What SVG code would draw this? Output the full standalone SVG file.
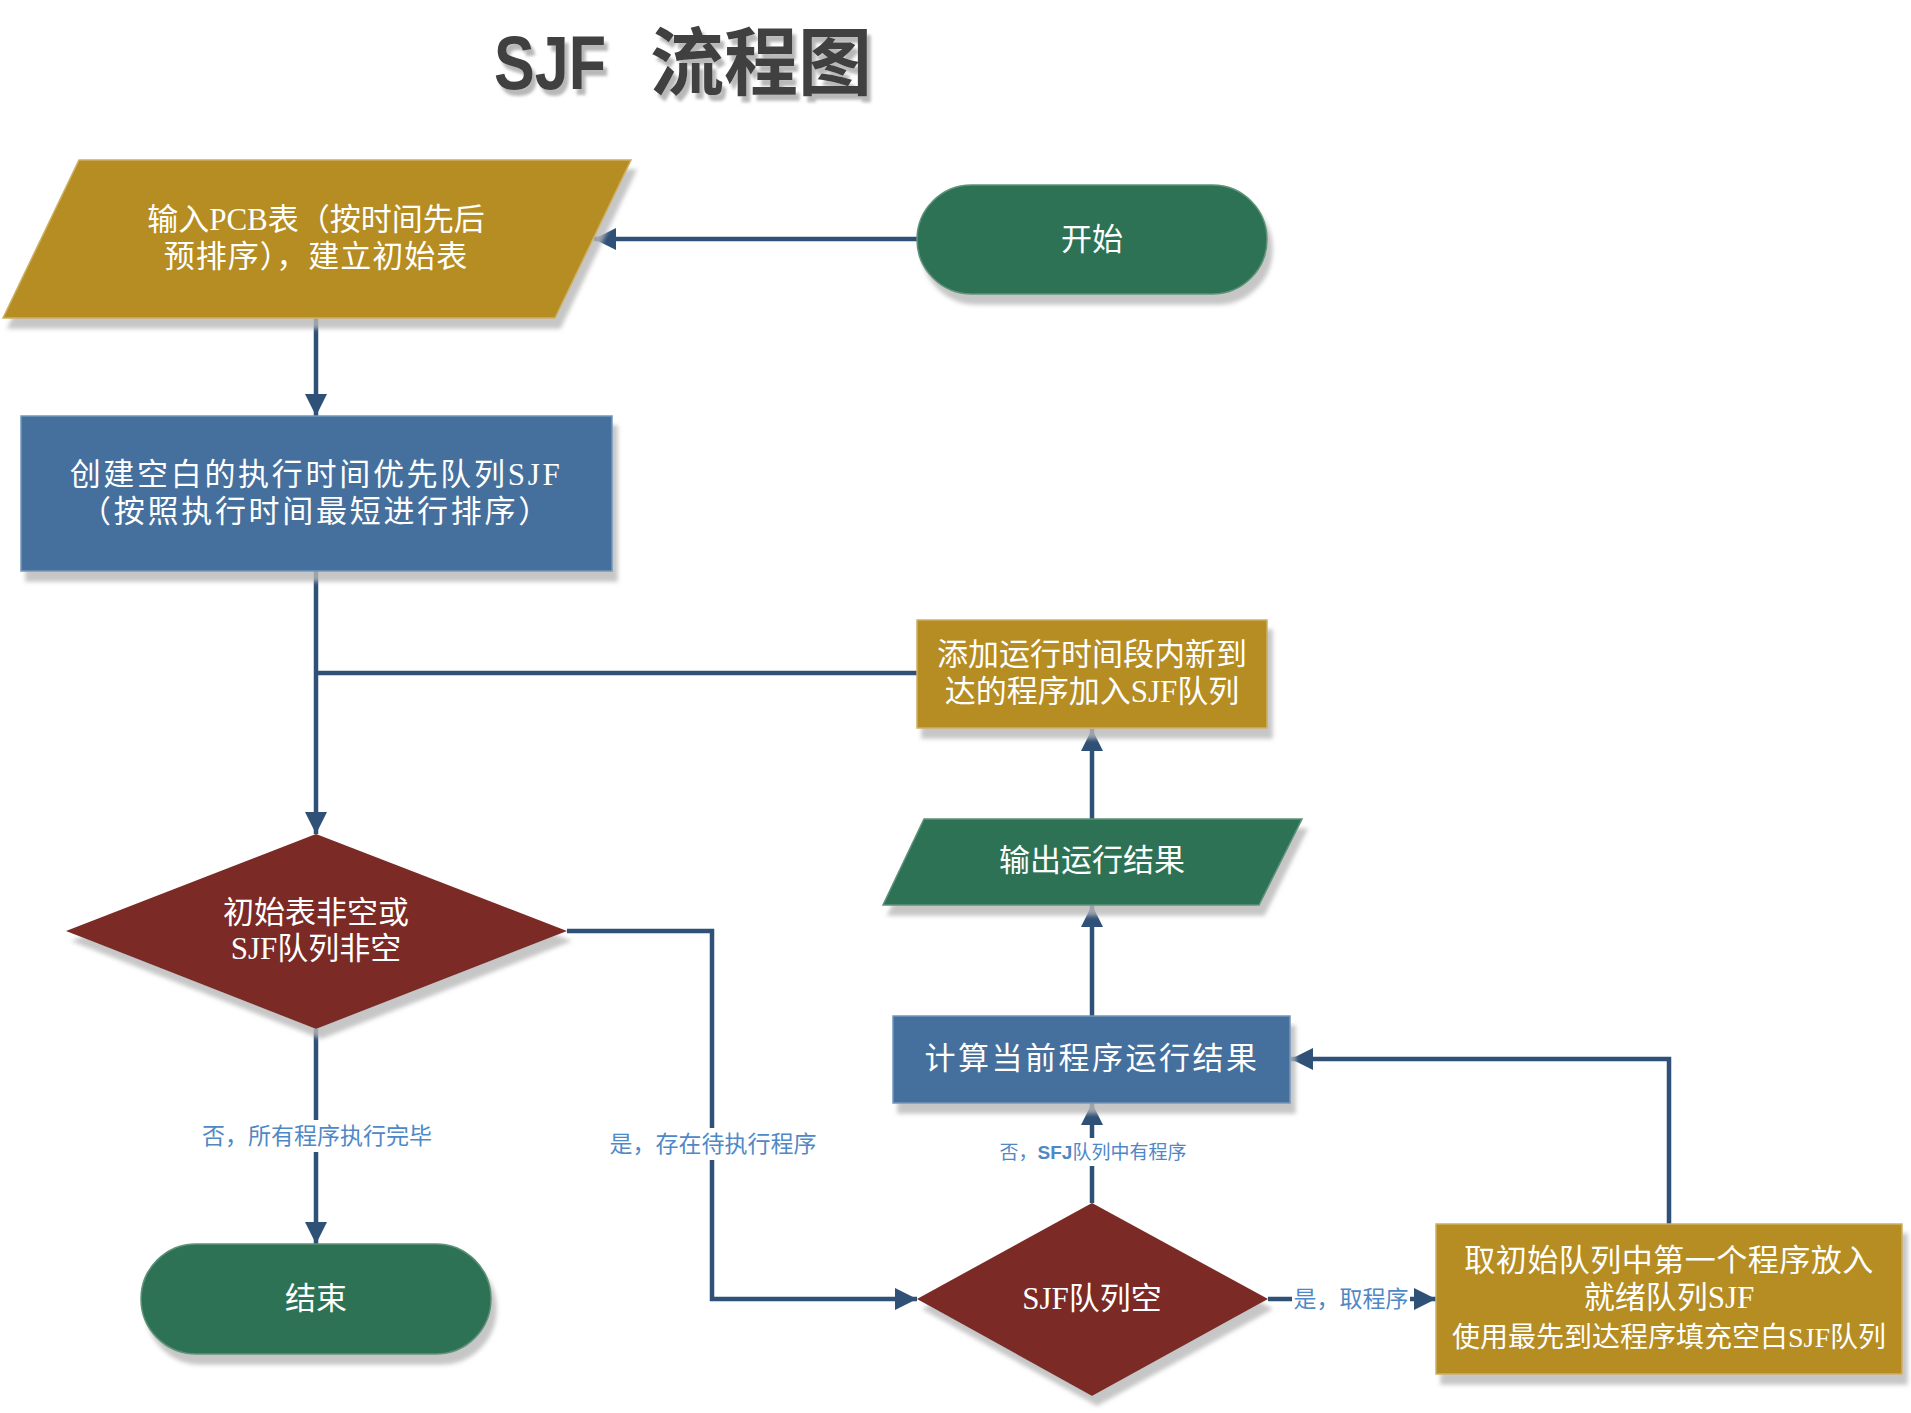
<svg xmlns="http://www.w3.org/2000/svg" width="1911" height="1413" viewBox="0 0 1911 1413">
<defs>
<filter id="sh" x="-10%" y="-10%" width="130%" height="140%">
<feDropShadow dx="5" dy="10" stdDeviation="2" flood-color="#b8b8b8" flood-opacity="0.8"/>
</filter>
<filter id="tsh" x="-10%" y="-10%" width="130%" height="140%">
<feDropShadow dx="4" dy="6" stdDeviation="1.5" flood-color="#b0b0b0" flood-opacity="0.9"/>
</filter>
<marker id="ah" markerUnits="userSpaceOnUse" markerWidth="24" markerHeight="24" refX="22" refY="11" orient="auto">
<path d="M0,0 L22,11 L0,22 Z" fill="#2F5077"/>
</marker>
</defs>
<style>
.gold{fill:#B58D21;stroke:#CDB064;stroke-width:1.5;filter:url(#sh)}
.green{fill:#2E7255;stroke:#5E927A;stroke-width:1.5;filter:url(#sh)}
.blue{fill:#44709D;stroke:#7396BA;stroke-width:1.5;filter:url(#sh)}
.red{fill:#7B2B27;filter:url(#sh)}
.t{fill:#ffffff;font-family:"Liberation Serif","Noto Sans CJK SC",serif;font-size:31px;text-anchor:middle;dominant-baseline:central}
.lbl{fill:#4F88C6;font-family:"Liberation Serif","Noto Sans CJK SC",serif;font-size:23px;text-anchor:middle;dominant-baseline:central}
.ln{fill:none;stroke:#2F5077;stroke-width:4.5}
.bg{fill:#ffffff}
</style>
<rect width="1911" height="1413" fill="#ffffff"/>
<g id="title" filter="url(#tsh)" fill="#404040" font-weight="bold">
<text x="494" y="89" font-family="'Liberation Sans',sans-serif" font-size="76" textLength="112" lengthAdjust="spacingAndGlyphs">SJF</text>
<text x="650" y="89" font-family="'Noto Sans CJK SC',sans-serif" font-size="74">流程图</text>
</g>
<g id="connectors">
<path class="ln" d="M917,239 H594" marker-end="url(#ah)"/>
<path class="ln" d="M316,318 V416" marker-end="url(#ah)"/>
<path class="ln" d="M316,570 V834" marker-end="url(#ah)"/>
<path class="ln" d="M917,673 H316"/>
<path class="ln" d="M1092,819 V729" marker-end="url(#ah)"/>
<path class="ln" d="M1092,1016 V905" marker-end="url(#ah)"/>
<path class="ln" d="M1092,1203 V1103" marker-end="url(#ah)"/>
<path class="ln" d="M1268,1299 H1436" marker-end="url(#ah)"/>
<path class="ln" d="M1669,1224 V1059 H1291" marker-end="url(#ah)"/>
<path class="ln" d="M567,931 H712 V1299 H917" marker-end="url(#ah)"/>
<path class="ln" d="M316,1029 V1244" marker-end="url(#ah)"/>
<rect class="bg" x="194" y="1120" width="246" height="32"/>
<text class="lbl" x="317" y="1136">否，所有程序执行完毕</text>
<rect class="bg" x="602" y="1128" width="222" height="32"/>
<text class="lbl" x="713" y="1144">是，存在待执行程序</text>
<rect class="bg" x="1000" y="1138" width="186" height="28"/>
<text class="lbl" x="1093" y="1152" style="font-size:19px">否，<tspan font-family="'Liberation Sans',sans-serif" font-weight="bold">SFJ</tspan>队列中有程序</text>
<rect class="bg" x="1292" y="1284" width="118" height="30"/>
<text class="lbl" x="1351" y="1299">是，取程序</text>
</g>
<g id="start">
<rect class="green" x="917" y="185" width="350" height="109" rx="54.5"/>
<text class="t" x="1092" y="239">开始</text>
</g>
<g id="input">
<polygon class="gold" points="79,160 631,160 555,318 3,318"/>
<text class="t" x="316" y="219">输入PCB表（按时间先后</text>
<text class="t" x="316" y="256" letter-spacing="1">预排序），建立初始表</text>
</g>
<g id="create">
<rect class="blue" x="21" y="416" width="591" height="155"/>
<text class="t" x="316" y="474" letter-spacing="2.7">创建空白的执行时间优先队列SJF</text>
<text class="t" x="316" y="511" letter-spacing="2.7">（按照执行时间最短进行排序）</text>
</g>
<g id="add">
<rect class="gold" x="917" y="620" width="350" height="108"/>
<text class="t" x="1092" y="654">添加运行时间段内新到</text>
<text class="t" x="1092" y="691">达的程序加入SJF队列</text>
</g>
<g id="output">
<polygon class="green" points="924,819 1302,819 1259,905 883,905"/>
<text class="t" x="1092" y="860">输出运行结果</text>
</g>
<g id="compute">
<rect class="blue" x="893" y="1016" width="397" height="87"/>
<text class="t" x="1092" y="1058" letter-spacing="2.5">计算当前程序运行结果</text>
</g>
<g id="cond1">
<polygon class="red" points="316,834 567,931 316,1029 66,931"/>
<text class="t" x="316" y="912">初始表非空或</text>
<text class="t" x="316" y="948">SJF队列非空</text>
</g>
<g id="cond2">
<polygon class="red" points="1092,1203 1268,1299 1092,1396 917,1299"/>
<text class="t" x="1092" y="1298">SJF队列空</text>
</g>
<g id="take">
<rect class="gold" x="1436" y="1224" width="466" height="150"/>
<text class="t" x="1669" y="1260" letter-spacing="0.5">取初始队列中第一个程序放入</text>
<text class="t" x="1669" y="1297">就绪队列SJF</text>
<text class="t" x="1669" y="1337" style="font-size:28px">使用最先到达程序填充空白SJF队列</text>
</g>
<g id="end">
<rect class="green" x="141" y="1244" width="350" height="110" rx="55"/>
<text class="t" x="316" y="1298">结束</text>
</g>
</svg>
